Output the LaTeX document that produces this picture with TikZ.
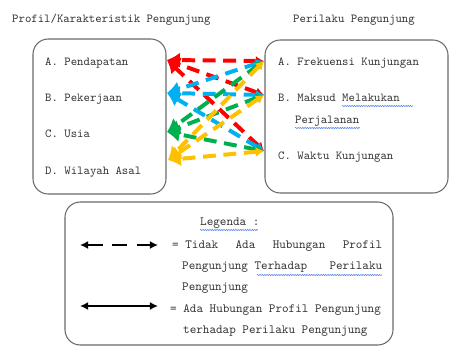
\documentclass[tikz,border=0pt]{standalone}
\usepackage{tikz}
\usetikzlibrary{arrows.meta,decorations.pathmorphing}
\definecolor{relred}{RGB}{255,0,0}
\definecolor{relblue}{RGB}{0,176,240}
\definecolor{relgreen}{RGB}{0,176,80}
\definecolor{relyellow}{RGB}{255,192,0}
\definecolor{boxgray}{RGB}{105,105,105}
\definecolor{spellblue}{RGB}{90,130,230}
\tikzset{box/.style={draw=boxgray, line width=0.9pt, rounded corners=13pt},
  txt/.style={anchor=base west, inner sep=0pt, text=black!80, font=\ttfamily\fontsize{10.4}{12}\selectfont},
  legtxt/.style={txt, font=\ttfamily\fontsize{10.7}{12}\selectfont},
  rel/.style={line width=3.4pt, dash pattern=on 11pt off 6.5pt, {Latex[length=7pt,width=8.5pt]}-{Latex[length=11pt,width=13pt]}},
  legarrow/.style={black, line width=2.2pt, {Latex[length=7pt,width=7pt]}-{Latex[length=7pt,width=7pt]}},
  spell/.style={spellblue, line width=0.5pt, decorate, decoration={snake, amplitude=0.5pt, segment length=2pt}}}

\begin{document}
\begin{tikzpicture}[x=0.03cm,y=-0.03cm]
     \useasboundingbox (0,0) rectangle (449,347);
     \draw[box] (33,39) rectangle (166,194);
     \draw[box] (265,40) rectangle (448,193);
     \draw[box] (65,202) rectangle (393,345);
     \node[txt] (ttlprofil)   at ( 12,23) {Profil/Karakteristik Pengunjung};
     \node[txt] (ttlperilaku) at (293,23) {Perilaku Pengunjung};
     \node[txt] (profA) at ( 45, 66) {A. Pendapatan};
     \node[txt] (profB) at ( 45,102) {B. Pekerjaan};
     \node[txt] (profC) at ( 45,138) {C. Usia};
     \node[txt] (profD) at ( 45,175) {D. Wilayah Asal};
     \node[txt] (perA)  at (278, 66) {A. Frekuensi Kunjungan};
     \node[txt] (perB)  at (278,102) {B. Maksud Melakukan};
     \node[txt] (perBb) at (295,124) {Perjalanan};
     \node[txt] (perC)  at (278,160) {C. Waktu Kunjungan};
     \draw[spell] (342,106) -- (413,106);
     \draw[spell] (295,128) -- (360,128);
     \coordinate (inA) at (167, 60);
     \coordinate (inB) at (167, 93);
     \coordinate (inC) at (167,132);
     \coordinate (inD) at (168,160);
     \coordinate (outA) at (264, 61);
     \coordinate (outB) at (264, 95);
     \coordinate (outC) at (264,151);
     \draw[rel,relred] (outA) -- (inA);
     \draw[rel,relred] (outB) -- (inA);
     \draw[rel,relred] (outC) -- (inA);
     \draw[rel,relblue] (outA) -- (inB);
     \draw[rel,relblue] (outB) -- (inB);
     \draw[rel,relblue] (outC) -- (inB);
     \draw[rel,relgreen] (outA) -- (inC);
     \draw[rel,relgreen] (outB) -- (inC);
     \draw[rel,relgreen] (outC) -- (inC);
     \draw[rel,relyellow] (outA) -- (inD);
     \draw[rel,relyellow] (outB) -- (inD);
     \draw[rel,relyellow] (outC) -- (inD);
     \node[legtxt] (legjudul) at (200,226) {Legenda :};
     \draw[spell] (200,230) -- (258,230);
     \coordinate (putusL) at ( 80,245);
     \coordinate (putusR) at (158,245);
     \draw[legarrow, dash pattern=on 13pt off 8pt] (putusL) -- (putusR);
     \node[legtxt, text width=6.3cm, align=justify] (legtidak) at (172,249) {= Tidak\hfill Ada\hfill Hubungan\hfill Profil};
     \node[legtxt, text width=6cm, align=justify] (legtidakb) at (182,270) {Pengunjung Terhadap\hfill Perilaku};
     \node[legtxt] (legtidakc) at (182,291) {Pengunjung};
     \draw[spell] (257,275) -- (382,275);
     \coordinate (utuhL) at ( 80,306);
     \coordinate (utuhR) at (158,306);
     \draw[legarrow] (utuhL) -- (utuhR);
     \node[legtxt] (legada)  at (170,313) {= Ada Hubungan Profil Pengunjung};
     \node[legtxt] (legadab) at (183,334) {terhadap Perilaku Pengunjung};
\end{tikzpicture}
\end{document}
